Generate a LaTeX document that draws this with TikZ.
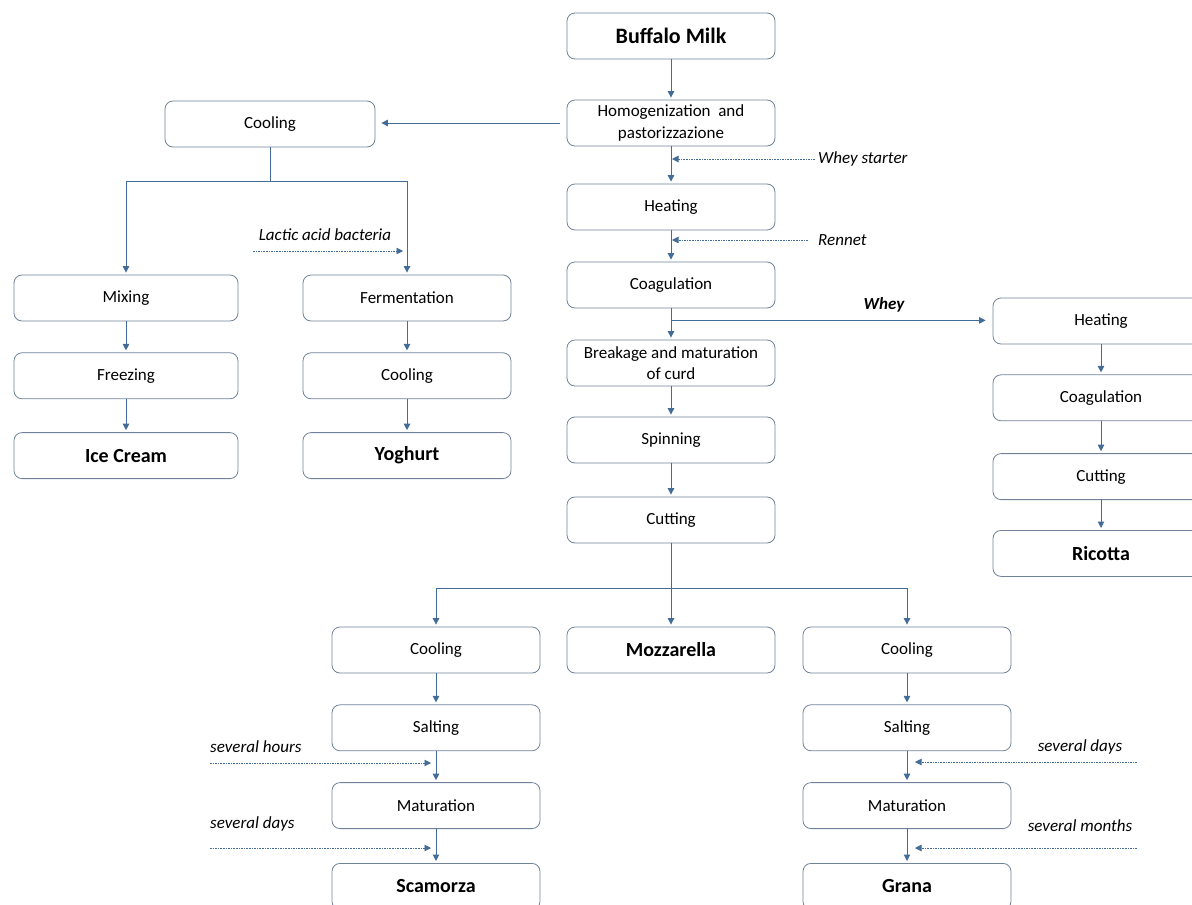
\documentclass[tikz,border=0pt]{standalone}
\usepackage{fontspec}
\setmainfont{Carlito}
\usetikzlibrary{positioning,arrows.meta,calc}
\definecolor{linkblue}{RGB}{68,108,152}
\definecolor{boxedge}{RGB}{112,130,154}

\begin{document}
\begin{tikzpicture}[
  x=1pt,y=-1pt,
  font=\fontsize{17}{21.5}\selectfont,>={Triangle[width=6.5pt,length=6.5pt]},
  proc/.style={draw=boxedge,line width=0.8pt,rounded corners=8pt,minimum width=208pt,
               minimum height=46pt,inner sep=1pt,align=center},
  prod/.style={proc,font=\fontsize{20}{22}\selectfont\bfseries},
  arr/.style={->,draw=linkblue,line width=1pt,shorten >=2pt},
  feed/.style={->,draw=linkblue,line width=0.6pt,dash pattern=on 1.6pt off 1pt},
  lbl/.style={font=\fontsize{17}{19}\selectfont\itshape,inner sep=0pt},
]
  \clip (0,0) rectangle (1192,905);

  % main line
  \node[prod,font=\fontsize{22}{24}\selectfont\bfseries] (milk) at (671,36) {Buffalo Milk};
  \node[proc] (homog) at (671,123) {Homogenization\ \ and\\pastorizzazione};
  \node[proc] (heat)  at (671,207) {Heating};
  \node[proc] (coag)  at (671,285) {Coagulation};
  \node[proc] (curd)  at (671,363) {Breakage and maturation\\of curd};
  \node[proc] (spin)  at (671,440) {Spinning};
  \node[proc] (cut)   at (671,520) {Cutting};

  % ice cream / yoghurt
  \node[proc,minimum width=210pt] (cool) at (270,124) {Cooling};
  \node[proc,minimum width=224pt] (mix) at (126,298) {Mixing};
  \node[proc,minimum width=224pt,below=31pt of mix] (freeze) {Freezing};
  \node[prod,minimum width=224pt,below=33pt of freeze] (ice) {Ice Cream};
  \node[proc] (ferm) at (407,298) {Fermentation};
  \node[proc,below=31pt of ferm] (coolyo) {Cooling};
  \node[prod,below=33pt of coolyo] (yog) {Yoghurt};

  % whey line
  \node[proc,minimum width=216pt] (rheat) at (1101,321) {Heating};
  \node[proc,minimum width=216pt,below=30pt of rheat] (rcoag) {Coagulation};
  \node[proc,minimum width=216pt,below=32pt of rcoag] (rcut) {Cutting};
  \node[prod,minimum width=216pt,below=30pt of rcut] (ricotta) {Ricotta};

  % after cutting
  \node[prod] (moz) at (671,650) {Mozzarella};
  \node[proc] (lcool) at (436,650) {Cooling};
  \node[proc,below=31pt of lcool] (lsalt) {Salting};
  \node[proc,below=31pt of lsalt] (lmat) {Maturation};
  \node[prod,below=34pt of lmat] (scam) {Scamorza};
  \node[proc] (rcool) at (907,650) {Cooling};
  \node[proc,below=31pt of rcool] (rsalt) {Salting};
  \node[proc,below=31pt of rsalt] (rmat) {Maturation};
  \node[prod,below=34pt of rmat] (grana) {Grana};

  % labels
  \node[lbl,anchor=west] (ws) at (818,159) {Whey starter};
  \node[lbl,anchor=west] (rn) at (818,240) {Rennet};
  \node[lbl] (lab) at (325,235) {Lactic acid bacteria};
  \node[lbl,font=\fontsize{17}{19}\selectfont\bfseries\itshape] (wlbl) at (884,305) {Whey};
  \node[lbl,anchor=west] (hrs) at (210,747) {several hours};
  \node[lbl,anchor=west] (dys) at (210,824) {several days};
  \node[lbl] (rdys) at (1080,747) {several days};
  \node[lbl] (mths) at (1080,826) {several months};

  % connectors
  \draw[arr] (milk) -- (homog);
  \draw[arr] (homog) -- (heat);
  \draw[arr] (heat) -- (coag);
  \draw[arr] (coag) -- (curd);
  \draw[arr] (curd) -- (spin);
  \draw[arr] (spin) -- (cut);
  \draw[arr,shorten <=7pt,shorten >=6pt] (homog.west) -- (homog.west -| cool.east);

  \draw[arr] (cool.south) -- ++(0,34) -| (mix.north);
  \draw[arr] (cool.south) -- ++(0,34) -| (ferm.north);
  \draw[arr] (mix) -- (freeze);
  \draw[arr] (freeze) -- (ice);
  \draw[arr] (ferm) -- (coolyo);
  \draw[arr] (coolyo) -- (yog);

  \coordinate (wy) at ($(coag.south)+(0,12)$);
  \draw[arr,shorten >=7pt] (wy) -- (wy -| rheat.west);
  \draw[arr] (rheat) -- (rcoag);
  \draw[arr] (rcoag) -- (rcut);
  \draw[arr] (rcut) -- (ricotta);

  \draw[arr] (cut.south) -- ++(0,45) -| (lcool.north);
  \draw[arr] (cut.south) -- ++(0,45) -| (rcool.north);
  \draw[arr] (cut) -- (moz);
  \draw[arr] (lcool) -- (lsalt);
  \draw[arr] (lsalt) -- (lmat);
  \draw[arr] (lmat) -- (scam);
  \draw[arr] (rcool) -- (rsalt);
  \draw[arr] (rsalt) -- (rmat);
  \draw[arr] (rmat) -- (grana);

  % additions
  \draw[feed,shorten <=3pt,shorten >=1pt] (ws.west) -- (ws.west -| homog.south);
  \draw[feed,shorten <=10pt,shorten >=1pt] (rn.west) -- (rn.west -| heat.south);
  \coordinate (labin) at (253,251);
  \draw[feed,shorten >=4pt] (labin) -- (labin -| ferm.north);
  \coordinate (hrsin) at (210,763);
  \draw[feed,shorten >=5pt] (hrsin) -- (hrsin -| lsalt.south);
  \coordinate (dysin) at (210,848);
  \draw[feed,shorten >=5pt] (dysin) -- (dysin -| lmat.south);
  \coordinate (rdysin) at (1137,762);
  \draw[feed,shorten >=8pt] (rdysin) -- (rdysin -| rsalt.south);
  \coordinate (mthsin) at (1137,848);
  \draw[feed,shorten >=8pt] (mthsin) -- (mthsin -| rmat.south);
\end{tikzpicture}
\end{document}
